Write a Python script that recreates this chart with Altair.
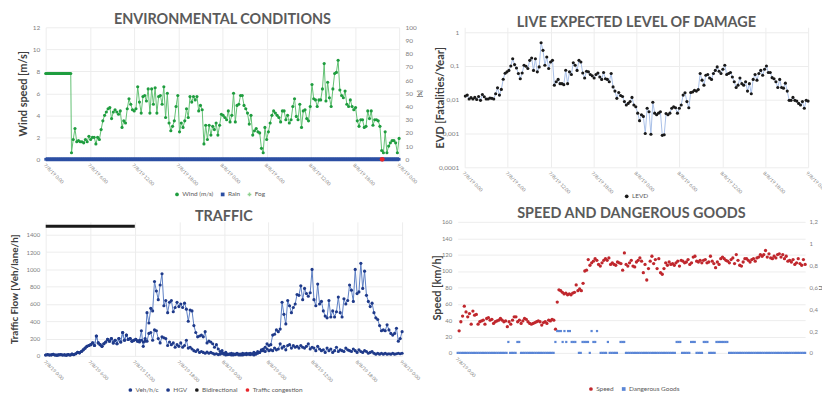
import json
import numpy as np
import pandas as pd
import altair as alt

FONT = "Lato"
X_TICKS = [0, 6, 12, 18, 24, 30, 36, 42, 48]
X_LABELS = ["7/8/19 0:00", "7/8/19 6:00", "7/8/19 12:00", "7/8/19 18:00",
            "8/8/19 0:00", "8/8/19 6:00", "8/8/19 12:00", "8/8/19 18:00", "9/8/19 0:00"]

# ---------------- Environmental conditions ----------------
WIND_CONST = [7.8, 7.8, 7.8, 7.8, 7.8, 7.8, 7.8, 7.8, 7.8, 7.8, 7.8, 7.8, 7.8, 7.8,
              7.8, 7.8, 7.8, 7.8, 7.8, 7.8, 7.8, 7.8, 7.8, 7.8, 7.8, 7.8, 7.8, 7.8]
WIND = [0.6, 1.8, 2.8, 1.6, 1.7, 1.6, 1.6, 1.5, 1.8, 1.6,
        2.1, 1.8, 2.0, 2.0, 1.4, 2.0, 1.8, 2.7, 3.5, 4.0,
        4.3, 4.6, 4.7, 3.7, 4.3, 4.5, 4.3, 4.1, 4.4, 2.9,
        3.5, 3.3, 4.6, 5.5, 5.0, 4.5, 4.4, 4.6, 6.6, 5.2,
        4.2, 5.7, 5.8, 5.3, 6.4, 4.2, 6.4, 5.0, 6.5, 4.2,
        5.7, 5.8, 5.0, 6.6, 3.8, 6.0, 3.3, 2.6, 3.0, 3.5,
        4.8, 5.8, 2.5, 3.3, 2.9, 3.5, 4.6, 3.8, 5.7, 5.2,
        5.7, 5.4, 5.7, 4.4, 4.9, 4.5, 1.4, 3.1, 1.8, 3.1,
        2.2, 3.0, 2.7, 3.3, 2.2, 3.1, 4.1, 4.0, 3.8, 3.6,
        4.4, 3.4, 4.0, 6.0, 3.4, 4.9, 5.0, 5.8, 5.8, 4.9,
        4.6, 4.2, 3.2, 4.0, 2.2, 2.6, 2.8, 2.5, 2.4, 1.0,
        0.6, 2.9, 1.8, 2.5, 3.3, 4.0, 4.4, 4.2, 4.0, 3.8,
        3.4, 4.4, 4.4, 3.6, 4.0, 3.3, 3.6, 4.8, 5.5, 3.9,
        3.6, 5.0, 2.9, 4.4, 4.5, 3.7, 3.5, 4.8, 6.8, 5.5,
        5.4, 4.8, 5.4, 5.4, 6.4, 8.7, 5.3, 7.0, 5.6, 4.8,
        6.4, 7.8, 7.9, 9.0, 6.3, 5.8, 5.6, 6.2, 5.0, 4.8,
        5.4, 4.8, 4.5, 4.7, 3.5, 3.0, 3.6, 3.6, 2.9, 3.0,
        4.4, 3.7, 4.4, 3.1, 3.6, 3.6, 3.5, 3.0, 0.8, 0.6,
        2.5, 0.6, 1.2, 1.5, 1.7, 1.7, 1.5, 0.6, 1.9]
RAIN = [0.0] * 193
FOG_T = [45.7]
FOG = [0.0]
ENV_SERIES = ["Wind (m/s)", "Rain", "Fog"]

# ---------------- LEVD ----------------
LEVD = [0.0128, 0.0137, 0.0105, 0.0115, 0.0105, 0.0117, 0.0102, 0.0125, 0.0096, 0.0143,
        0.0123, 0.0105, 0.0105, 0.0112, 0.0110, 0.0105, 0.0150, 0.0225, 0.0137, 0.0202,
        0.0405, 0.061, 0.067, 0.074, 0.100, 0.164, 0.11, 0.087, 0.060, 0.042,
        0.062, 0.105, 0.098, 0.084, 0.147, 0.172, 0.074, 0.164, 0.067, 0.094,
        0.486, 0.29, 0.105, 0.184, 0.084, 0.131, 0.147,
        0.027, 0.034, 0.040, 0.030, 0.030, 0.028, 0.075, 0.030, 0.067, 0.056,
        0.125, 0.105, 0.074, 0.147, 0.131, 0.062, 0.044, 0.070, 0.067, 0.056,
        0.051, 0.044, 0.056, 0.062, 0.047, 0.040, 0.064, 0.042, 0.040, 0.034,
        0.060, 0.024, 0.018, 0.011, 0.0164, 0.0134, 0.0125, 0.0088, 0.0070, 0.0078,
        0.0088, 0.0117, 0.0070, 0.0062, 0.0040, 0.0024, 0.0036, 0.0032, 0.0010, 0.0056,
        0.0044, 0.00095, 0.0084, 0.0040, 0.0036, 0.0040, 0.0044, 0.00088, 0.00092, 0.0039,
        0.0036, 0.0040, 0.0056, 0.0062, 0.0058, 0.0040, 0.0056, 0.0070, 0.0137, 0.0161,
        0.0088, 0.0058, 0.0164, 0.017, 0.019, 0.018, 0.020, 0.060, 0.038, 0.027,
        0.053, 0.056, 0.044, 0.040, 0.060, 0.074, 0.094, 0.070, 0.060, 0.080,
        0.105, 0.056, 0.060, 0.064, 0.047, 0.034, 0.023, 0.027, 0.044, 0.030,
        0.027, 0.034, 0.018, 0.030, 0.0150, 0.040, 0.056, 0.038, 0.060, 0.074,
        0.053, 0.080, 0.100, 0.064, 0.064, 0.045, 0.042, 0.034, 0.023, 0.040,
        0.023, 0.022, 0.031, 0.018, 0.0096, 0.0096, 0.0117, 0.0096, 0.0091, 0.0078,
        0.0070, 0.0088, 0.0056, 0.0096, 0.0091]
LEVD_TICKS = [1, 0.1, 0.01, 0.001, 0.0001]
LEVD_LABELS = ["1", "0,1", "0,01", "0,001", "0,0001"]

# ---------------- Traffic ----------------
TRAFFIC_EARLY = [10, 15, 10, 12, 18, 10, 8, 12, 15, 10, 12, 8, 15, 10, 20, 15,
                 25, 40, 35, 50, 70, 90, 110, 120,
                 130, 150, 120, 230, 150, 130, 110, 140,
                 160, 190, 170, 200, 150, 180, 140, 200,
                 160, 270, 180, 240, 190, 200, 170, 180, 190]
VEH_LATE = [170, 160, 180, 160, 170,
            500, 380, 550, 520, 860, 750, 650, 820, 950, 580,
            640, 500, 620, 640, 510, 560, 620, 570, 600, 560,
            610, 540, 400, 530, 520, 350, 270, 220, 230, 240,
            220, 280, 150, 170, 160, 140, 100, 130, 80, 50,
            60, 30, 40,
            20, 20, 30, 10, 20, 30, 20, 10, 10, 20, 30, 20, 15, 25, 10, 20, 30, 40, 60,
            80, 100, 140, 120, 130, 240, 250, 300, 280, 310,
            620, 480, 370, 640, 580, 500, 560, 600, 710, 700,
            810, 650, 780, 720, 690, 730, 1000, 650, 580, 830,
            600, 630, 520, 460, 440, 640, 450, 520, 450, 510,
            680, 500, 450, 660, 600, 640, 820, 760, 630, 1000,
            720, 740, 1070, 780, 980, 700, 630, 570, 610, 500,
            440, 420, 350, 290, 300, 290, 360, 300, 260, 240,
            260, 320, 170, 200, 280]
HGV_LATE = [170, 180, 290, 110, 200,
            170, 260, 270, 180, 300, 290, 200, 150, 220, 210,
            200, 120, 160, 130, 150, 100, 130, 110, 150, 100,
            120, 180, 90, 100, 80, 60, 50, 70, 40, 50,
            40, 30, 45, 30, 40,
            30, 20, 25, 15, 20, 30, 20, 10, 15, 20, 10, 25, 15, 20, 10, 20, 30, 20, 15,
            25, 30, 20, 40, 30, 50, 40,
            70, 60, 50, 80, 60, 70, 60, 90, 70, 80, 140, 90, 110, 70, 120, 130, 90,
            120, 100, 110, 90, 120, 100, 90, 110, 140, 80, 100, 90, 60, 110, 80, 60,
            70, 40, 90, 60, 80, 40, 60, 100, 50, 70, 60, 50, 90, 70, 60, 50, 80, 60,
            40, 70, 50, 40, 60, 50, 30, 40, 50, 30, 20, 30, 20, 30, 20, 30, 20, 25,
            20, 30, 20, 25, 30, 25, 30]
BIDIR_START = [0]
BIDIR_END = [12]
BIDIR_LEVEL = [1500]
TRAFFIC_SERIES = ["Veh/h/c", "HGV", "Bidirectional", "Traffic congestion"]

# ---------------- Speed and dangerous goods ----------------
SPEED = [27, 38, 45, 57, 50, 44, 48, 35, 51, 46,
         47, 35, 38, 39, 40, 35, 42, 43, 40, 41,
         36, 38, 39, 40, 42, 40, 38, 39, 32, 38,
         35, 40, 44, 44, 38, 40, 36, 39, 42, 41,
         38, 36, 35, 36, 37, 38, 39, 38, 34, 37,
         38, 36, 40, 39, 41, 40, 29, 62,
         77, 76, 74, 72, 73, 71, 72, 71, 73, 74,
         83, 76, 78, 76, 85, 100, 101, 114, 107, 110,
         112, 115, 113, 108, 106, 110, 113, 115, 113, 116,
         108, 110, 108, 107, 111, 110, 109, 101, 122, 108,
         106, 110, 113, 106, 105, 111, 113, 116, 112, 98,
         108, 89, 103, 112, 118, 109, 114, 103, 115, 98,
         96, 103, 110, 107, 111, 108, 109, 107, 110, 112,
         106, 113, 112, 110, 111, 114, 108, 110, 117, 118,
         112, 111, 113, 110, 113, 114, 110, 111, 118, 112,
         109, 104, 111, 108, 115, 117, 115, 113, 112, 110,
         114, 116, 109, 120, 113, 107, 106, 111, 115, 115,
         113, 111, 114, 115, 112, 116, 117, 120, 118, 120,
         125, 117, 121, 116, 115, 118, 116, 120, 121, 117,
         120, 115, 118, 112, 113, 111, 114, 108, 110, 115,
         109, 107, 114, 108]
N = None
DG_TENTHS = [0, 0, 0, 0, 0, 0, 0, 0, 0, 0, 0, 0, 0, 0, 0, 0, 0, 0, 0, 0, 0, 0, 0, 0, 0, 0, 0, 0,
             1, 0, 0, 0, 0, 1, 1,
             0, 0, 0, 0, 0, 0, 0, 0, 0, 0, 0, 0, 0, 0, 0, 0, 0, 0, 0,
             1, 2, 2, 2, 1, 2, 1, 2, 2, 1, 1, 1, N, 0, 0, 1, 1, 1, 1, 0, 2, 1, 1, 2, N,
             0, 0, 0, 0, 1, 0, 0, 0, 0, 0, N, 1, 1, 1,
             0, 0, 0, 0, 0, 0, 0, 0, 0, 0, 0, 0, 0, 0, 0, 0, 0, 0, 0, 0, 0, 0, 0, 0, 0, 0, 0, 0,
             1, 1, 1, 0, 0, 0, 0, 0, 1, 1, 1, 0, 0, 0, 0, 1, 1, 1, 0, 0, 0, 0,
             1, 1, 1, 1, 1, 1, 1,
             0, 0, 0, 0, 0, 0, 0, 0, 0, 0, 0, 0, 0, 0, 0, 0, 0, 0, 0, 0, 0, 0, 0, 0, 0, 0, 0, 0,
             0, 0, 0, 0, 0, 0, 0, 0, 0, 0, 0, 0, 0, 0, 0]
SPEED_SERIES = ["Speed", "Dangerous Goods"]
DG_TICKS = [0, 0.2, 0.4, 0.6, 0.8, 1.0, 1.2]
DG_LABELS = ["0", "0,2", "0,4", "0,6", "0,8", "1", "1,2"]

# ---------------- colours ----------------
GREEN = "#1f9d3f"
GREEN_LIGHT = "#63c174"
BLUE = "#2c4fa3"
NAVY = "#1f3a8a"
NAVY_LINE = "#5d7fc4"
BLACK = "#1a1a1a"
LEVD_LINE = "#a9c1e8"
RED = "#c0272d"
DG_BLUE = "#5b86d6"
GRID = "#ededed"
TITLE_C = "#5a5a5a"
AXT_C = "#404040"
LAB_C = "#808080"

# ---------------- data frames ----------------
wind_t = np.concatenate([np.linspace(0, 3.4, len(WIND_CONST)), np.linspace(3.5, 48, len(WIND))])
wind_df = pd.DataFrame({"t": wind_t, "v": WIND_CONST + WIND, "s": "Wind (m/s)"})
rain_df = pd.DataFrame({"t": np.linspace(0, 48, len(RAIN)), "v": RAIN, "s": "Rain"})
fog_df = pd.DataFrame({"t": FOG_T, "v": FOG})
levd_df = pd.DataFrame({"t": np.linspace(0.1, 48, len(LEVD)), "v": LEVD, "s": "LEVD"})
veh_v = TRAFFIC_EARLY + VEH_LATE
hgv_v = TRAFFIC_EARLY + HGV_LATE
veh_df = pd.DataFrame({"t": np.linspace(0, 48, len(veh_v)), "v": veh_v, "s": "Veh/h/c"})
hgv_df = pd.DataFrame({"t": np.linspace(0, 48, len(hgv_v)), "v": hgv_v, "s": "HGV"})
bidir_df = pd.DataFrame({"t": BIDIR_START, "t2": BIDIR_END, "v": BIDIR_LEVEL})
speed_df = pd.DataFrame({"t": np.linspace(0.2, 48, len(SPEED)), "v": SPEED, "s": "Speed"})
dg_t = np.linspace(0, 48, len(DG_TENTHS))
dg_df = pd.DataFrame({"t": dg_t, "v": [None if d is None else d / 10 for d in DG_TENTHS], "s": "Dangerous Goods"})
dg_df = dg_df.dropna()


def x_enc(values=X_TICKS, grid=True):
    return alt.X("t:Q", scale=alt.Scale(domain=[0, 48], nice=False, zero=False),
                 axis=alt.Axis(values=values,
                               labelExpr=json.dumps(X_LABELS) + "[round(datum.value/6)]",
                               labelAngle=45, labelAlign="left", labelBaseline="top",
                               labelFontSize=4.8, labelColor=LAB_C, labelFont=FONT,
                               labelPadding=3, labelOverlap=False, labelFlush=False,
                               ticks=False, domain=False, grid=grid, gridColor=GRID,
                               title=None))


def y_axis(title, values, extent, tpad, tsize=11, orient="left", label_expr=None, grid=True,
           lsize=6.5, fmt=None, lpad=6):
    kw = dict(values=values, title=title, orient=orient, titleFont=FONT, titleFontSize=tsize,
              titleFontWeight="bold", titleColor=AXT_C, labelFont=FONT, labelFontSize=lsize,
              labelColor=LAB_C, ticks=False, domain=False, grid=grid, gridColor=GRID,
              labelPadding=lpad, titlePadding=tpad, minExtent=extent, maxExtent=extent,
              labelOverlap=False)
    if label_expr:
        kw["labelExpr"] = label_expr
    if fmt:
        kw["format"] = fmt
    return alt.Axis(**kw)


def legend(lx, ly):
    return alt.Legend(title=None, orient="none", legendX=lx, legendY=ly, direction="horizontal",
                      labelFont=FONT, labelFontSize=6.5, labelColor="#595959", symbolSize=14,
                      columnPadding=6, padding=0, labelOffset=2)


def title(text, offset):
    return alt.TitleParams(text=text, font=FONT, fontSize=14.5, fontWeight="bold", color=TITLE_C,
                           offset=offset, anchor="middle", frame="group")


# ---------------- Panel 1 ----------------
xe1 = x_enc()
env_color = alt.Color("s:N", scale=alt.Scale(domain=ENV_SERIES, range=[GREEN, BLUE, "#8fd18f"]), legend=legend(129, 165))
env_shape = alt.Shape("s:N", scale=alt.Scale(domain=ENV_SERIES, range=["circle", "square", "cross"]), legend=legend(129, 165))
y_w = alt.Y("v:Q", scale=alt.Scale(domain=[0, 12], nice=False),
            axis=y_axis("Wind speed [m/s]", list(range(0, 13, 2)), 14, 3))
y_p = alt.Y("v:Q", scale=alt.Scale(domain=[0, 100], nice=False),
            axis=y_axis("[%]", list(range(0, 101, 10)), 16, 2, tsize=5, orient="right", grid=False))
left1 = alt.layer(
    alt.Chart(wind_df).mark_line(color=GREEN_LIGHT, strokeWidth=1).encode(x=xe1, y=y_w),
    alt.Chart(wind_df).mark_point(filled=True, size=10, opacity=1).encode(x=xe1, y=y_w, color=env_color, shape=env_shape),
)
right1 = alt.layer(
    alt.Chart(rain_df).mark_line(color=BLUE, strokeWidth=4).encode(x=xe1, y=y_p),
    alt.Chart(rain_df).mark_point(filled=True, size=8, opacity=1).encode(x=xe1, y=y_p, color=env_color, shape=env_shape),
    alt.Chart(fog_df).mark_point(filled=True, size=24, color="#e8262b", opacity=1).encode(x=xe1, y=y_p),
)
p1 = alt.layer(left1, right1).resolve_scale(y="independent").properties(
    width=356, height=133, title=title("ENVIRONMENTAL CONDITIONS", -3))

# ---------------- Panel 2 ----------------
xe2 = x_enc()
levd_color = alt.Color("s:N", scale=alt.Scale(domain=["LEVD"], range=[BLACK]), legend=legend(160, 167))
y_l = alt.Y("v:Q", scale=alt.Scale(type="log", domain=[0.0001, 1.4], nice=False),
            axis=y_axis("EVD [Fatalities/Year]", LEVD_TICKS, 14, 5,
                        label_expr=json.dumps(LEVD_LABELS) + "[round(-log(datum.value)/LN10)]"))
p2 = alt.layer(
    alt.Chart(levd_df).mark_line(color=LEVD_LINE, strokeWidth=1).encode(x=xe2, y=y_l),
    alt.Chart(levd_df).mark_point(filled=True, size=10, opacity=1).encode(x=xe2, y=y_l, color=levd_color),
).properties(width=346, height=141, title=title("LIVE EXPECTED LEVEL OF DAMAGE", -3))

# ---------------- Panel 3 ----------------
xe3 = x_enc()
tr_color = alt.Color("s:N", scale=alt.Scale(domain=TRAFFIC_SERIES, range=[NAVY, NAVY, BLACK, "#e8262b"]), legend=legend(82, 166))
y_t = alt.Y("v:Q", scale=alt.Scale(domain=[0, 1550], nice=False),
            axis=y_axis("Traffic Flow [Veh/lane/h]", list(range(0, 1401, 200)), 22, 4, tsize=10, lsize=6, fmt="d"))
p3 = alt.layer(
    alt.Chart(veh_df).mark_line(color=NAVY_LINE, strokeWidth=1).encode(x=xe3, y=y_t),
    alt.Chart(hgv_df).mark_line(color=NAVY_LINE, strokeWidth=1).encode(x=xe3, y=y_t),
    alt.Chart(veh_df).mark_point(filled=True, size=10, opacity=1).encode(x=xe3, y=y_t, color=tr_color),
    alt.Chart(hgv_df).mark_point(filled=True, size=10, opacity=1).encode(x=xe3, y=y_t, color=tr_color),
    alt.Chart(bidir_df).mark_rule(color=BLACK, strokeWidth=3).encode(x=xe3, x2="t2:Q", y=y_t),
).properties(width=359, height=135, title=title("TRAFFIC", -3))

# ---------------- Panel 4 ----------------
xe4 = x_enc(values=[0], grid=False)
sp_color = alt.Color("s:N", scale=alt.Scale(domain=SPEED_SERIES, range=[RED, DG_BLUE]), legend=legend(131, 165))
sp_shape = alt.Shape("s:N", scale=alt.Scale(domain=SPEED_SERIES, range=["circle", "square"]), legend=legend(131, 165))
y_s = alt.Y("v:Q", scale=alt.Scale(domain=[0, 160], nice=False),
            axis=y_axis("Speed [km/h]", list(range(0, 161, 20)), 12, 3, lsize=6, fmt="d"))
y_d = alt.Y("v:Q", scale=alt.Scale(domain=[0, 1.2], nice=False),
            axis=y_axis("[-]", DG_TICKS, 12, 1, tsize=5, orient="right", grid=False, lsize=6, lpad=4,
                        label_expr=json.dumps(DG_LABELS) + "[round(datum.value/0.2)]"))
p4 = alt.layer(
    alt.Chart(speed_df).mark_point(filled=True, size=11, opacity=1).encode(x=xe4, y=y_s, color=sp_color, shape=sp_shape),
    alt.Chart(dg_df).mark_point(filled=True, size=5, opacity=1).encode(x=xe4, y=y_d, color=sp_color, shape=sp_shape),
).resolve_scale(y="independent").properties(width=350, height=132, title=title("SPEED AND DANGEROUS GOODS", -3))

row1 = alt.hconcat(p1, p2, spacing=11).resolve_scale(color="independent", shape="independent")
row2 = alt.hconcat(p3, p4, spacing=9).resolve_scale(color="independent", shape="independent")
chart = alt.vconcat(row1, row2, spacing=5).resolve_scale(color="independent", shape="independent").properties(
    padding={"left": 1, "top": 2, "right": -6, "bottom": 0}
).configure_view(stroke="transparent")

chart.save("out.html", embed_options={"renderer": "svg", "actions": False})
